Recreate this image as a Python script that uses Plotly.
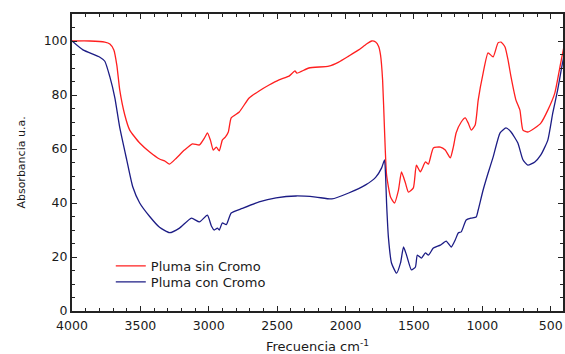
import plotly.graph_objects as go

# Pluma sin Cromo (red)
freq_sin = [4000, 3869, 3760, 3723, 3694, 3672, 3651, 3614, 3578, 3505, 3432, 3360, 3323, 3287,
            3236, 3178, 3119, 3068, 3032, 3010, 2988, 2967, 2945, 2923, 2901, 2879, 2857, 2836,
            2777, 2705, 2632, 2559, 2486, 2413, 2370, 2355, 2268, 2122, 2050, 1977, 1904, 1846,
            1809, 1780, 1758, 1744, 1729, 1715, 1700, 1671, 1642, 1613, 1591, 1562, 1540, 1504,
            1482, 1453, 1416, 1394, 1358, 1307, 1271, 1234, 1212, 1191, 1154, 1125, 1103, 1081,
            1052, 1030, 994, 958, 921, 885, 863, 834, 812, 790, 754, 725, 703, 667, 616, 572,
            521, 470, 427, 405]
abs_sin = [100, 100, 99.6, 98.9, 96.7, 91, 81.9, 72.6, 67, 62.2, 58.9, 56.3, 55.6, 54.4,
           56.7, 59.6, 61.9, 61.5, 64, 66, 63.3, 59.6, 60.7, 59.3, 63.3, 64.4, 66.3, 71.5,
           73.7, 78.9, 81.5, 83.7, 85.6, 87, 88.9, 88.1, 90, 90.7, 92.2, 94.4, 96.7, 98.9,
           100, 99.6, 98, 94.8, 85.6, 67, 50.4, 42.2, 40, 44.8, 51.5, 47.4, 44, 45.6,
           54, 51.5, 55.2, 54.4, 60.4, 60.7, 59.6, 56.7, 60.7, 66, 70, 71.5, 69.6, 67,
           68.9, 78.1, 88.1, 95.6, 94.1, 99.3, 99.6, 97.8, 93, 86.7, 78.1, 74.4, 67, 66.3, 67.8, 69.6,
           74.4, 80.7, 91.8, 97.4]

# Pluma con Cromo (blue)
freq_con = [4000, 3920, 3796, 3760, 3723, 3687, 3651, 3600, 3556, 3505, 3432, 3360, 3287, 3214,
            3127, 3068, 3010, 2981, 2960, 2937, 2923, 2901, 2872, 2836, 2755, 2632, 2508, 2362,
            2217, 2100, 1977, 1853, 1780, 1736, 1715, 1707, 1700, 1686, 1664, 1627, 1598, 1576,
            1554, 1518, 1489, 1475, 1445, 1416, 1394, 1358, 1307, 1264, 1227, 1198, 1176, 1154,
            1118, 1081, 1045, 1030, 994, 958, 921, 870, 827, 790, 740, 703, 667, 616, 572,
            521, 485, 449, 419, 405]
abs_con = [100, 96.7, 94, 92.5, 86.7, 79, 68, 56, 46, 40, 35, 31, 29, 30.7,
           34.4, 33, 35.5, 31.5, 30, 30.7, 30, 32.6, 32, 36.3, 38, 40.4, 41.9, 42.6,
           42.2, 41.5, 43.7, 46.7, 49.5, 53, 56, 50, 40, 27, 17.8, 14, 17.8, 23.7,
           20.7, 15.2, 16.3, 20.7, 19.6, 21.5, 20.7, 23.3, 24.4, 25.9, 23.7, 26.3, 28.9, 29.3,
           33.7, 34.4, 34.8, 37.4, 44.8, 51, 57, 66, 67.8, 66.3, 62.2, 56, 54, 55.2, 57.8,
           63.3, 73.3, 81.9, 90.4, 94]

x_ticks = [4000, 3500, 3000, 2500, 2000, 1500, 1000, 500]
y_ticks = [0, 20, 40, 60, 80, 100]

FONT = "DejaVu Sans, Verdana, sans-serif"
INK = "#1a1a1a"

fig = go.Figure()
fig.add_trace(go.Scatter(x=freq_sin, y=abs_sin, mode="lines", name="Pluma sin Cromo", legend="legend",
                         showlegend=True,
                         line=dict(color="#ff1f1f", width=1.3, shape="spline", smoothing=0.5)))
fig.add_trace(go.Scatter(x=freq_con, y=abs_con, mode="lines", name="Pluma con Cromo", legend="legend2",
                         showlegend=True,
                         line=dict(color="#1c1c85", width=1.3, shape="spline", smoothing=0.5)))

axis_common = dict(showline=True, linecolor="#222", linewidth=2, mirror="ticks",
                   ticks="inside", ticklen=5, tickwidth=1, tickcolor="#222",
                   showgrid=False, zeroline=False,
                   tickfont=dict(family=FONT, size=12.5, color=INK))

fig.update_xaxes(range=[4000, 410], tickvals=x_ticks, ticklabelstandoff=2,
                 minor=dict(dtick=100, tick0=0, ticks="inside", ticklen=3, tickcolor="#222"),
                 title=dict(text="Frecuencia cm<sup>-1</sup>", font=dict(family=FONT, size=13, color=INK),
                            standoff=10),
                 **axis_common)
fig.update_yaxes(range=[0, 110], tickvals=y_ticks,
                 minor=dict(dtick=5, tick0=0, ticks="inside", ticklen=3, tickcolor="#222"),
                 title=dict(text="Absorbancia u.a.", font=dict(family=FONT, size=11, color=INK),
                            standoff=16),
                 **axis_common)

leg_common = dict(xanchor="left", yanchor="middle", bgcolor="rgba(0,0,0,0)",
                  font=dict(family=FONT, size=13, color=INK), itemwidth=30)
fig.update_layout(
    width=565, height=354,
    margin=dict(l=72, r=0, t=14, b=43),
    paper_bgcolor="white", plot_bgcolor="white",
    font=dict(family=FONT, size=12, color=INK),
    showlegend=True,
    legend=dict(x=0.079, y=0.1515, **leg_common),
    legend2=dict(x=0.079, y=0.0976, **leg_common),
)

fig.write_html("out.html")
